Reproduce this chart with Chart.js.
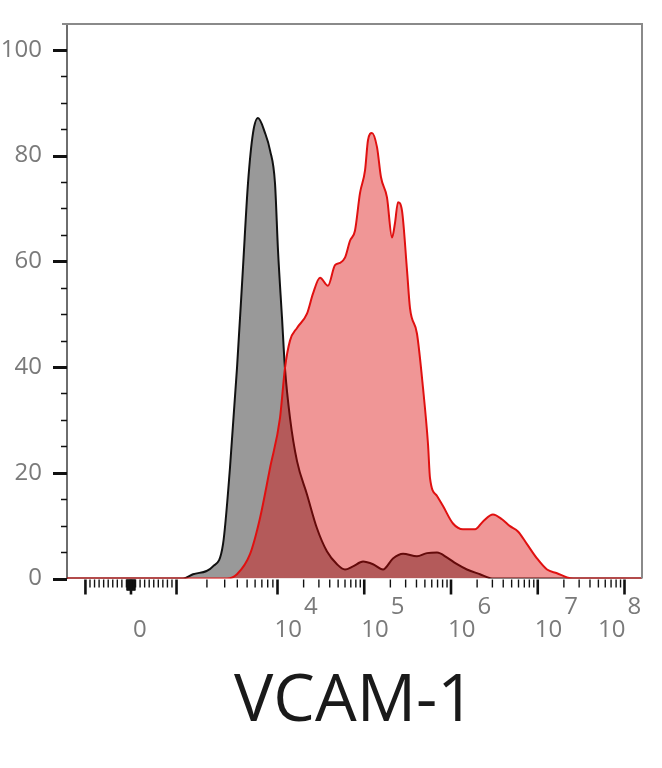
<!DOCTYPE html>
<html><head><meta charset="utf-8">
<script src="https://cdn.jsdelivr.net/npm/chart.js@4.4.1/dist/chart.umd.min.js"></script>
<style>html,body{margin:0;padding:0;background:#fff;}#wrap{width:662px;height:768px;}</style>
</head><body><div id="wrap"><canvas id="c" width="662" height="768"></canvas></div>
<script>
// x values are display positions (decade units of the biexponential axis)
const grayX = [1.57, 2.911, 3.026, 3.256, 3.372, 3.452, 3.533, 3.602, 3.660, 3.718, 3.775, 3.856, 3.914, 3.971, 4.006, 4.052, 4.086, 4.144, 4.225, 4.340, 4.455, 4.571, 4.686, 4.778, 4.870, 4.986, 5.101, 5.216, 5.331, 5.447, 5.608, 5.723, 5.839, 5.960, 6.060, 6.184, 6.334, 6.473, 8.21];
const grayY = [0, 0, 0.8, 2.3, 6.5, 20.9, 39.8, 58.8, 74.8, 84.3, 87.1, 84.3, 81.0, 74.8, 62.0, 49.3, 39.8, 30.4, 22.2, 15.9, 9.5, 5.1, 2.7, 1.7, 2.3, 3.2, 2.7, 1.7, 3.8, 4.7, 4.2, 4.8, 4.9, 3.9, 2.8, 1.7, 0.8, 0, 0];
const redX = [1.57, 3.418, 3.533, 3.683, 3.798, 3.914, 4.029, 4.086, 4.144, 4.225, 4.340, 4.409, 4.490, 4.582, 4.663, 4.720, 4.778, 4.836, 4.893, 4.951, 5.009, 5.043, 5.089, 5.147, 5.193, 5.262, 5.320, 5.354, 5.389, 5.435, 5.493, 5.527, 5.608, 5.677, 5.735, 5.758, 5.839, 5.908, 6.023, 6.138, 6.277, 6.369, 6.484, 6.588, 6.680, 6.772, 6.876, 6.991, 7.107, 7.222, 7.337, 7.406, 8.21];
const redY = [0, 0, 0.8, 4.6, 11.4, 20.9, 30.4, 39.8, 45.0, 47.4, 50.1, 53.9, 56.9, 55.4, 59.3, 59.7, 60.7, 63.9, 65.8, 72.9, 77.2, 82.9, 84.3, 81.6, 75.9, 72.1, 64.5, 67.2, 71.2, 69.6, 58.3, 51.2, 46.3, 36.1, 25.4, 19.0, 15.6, 13.7, 10.4, 9.3, 9.3, 10.8, 12.1, 11.2, 9.9, 8.9, 6.5, 3.8, 1.7, 1.0, 0.2, 0, 0];

const xMajorValues = [-1000, 0, 1000, 1e4, 1e5, 1e6, 1e7, 1e8];
const xLabelBase = ['', '0', '', '10', '10', '10', '10', '10'];
const xLabelExp  = ['', '', '', '4', '5', '6', '7', '8'];
const yMajorTicks = [0, 20, 40, 60, 80, 100];
const yMinorTicks = [5, 10, 15, 25, 30, 35, 45, 50, 55, 65, 70, 75, 85, 90, 95];
const titleText = 'VCAM-1';

const X_MIN = 1.5735, X_MAX = 8.2017;
// biexponential display transform: linear near zero, log above
function toDisplay(v) {
  if (Math.abs(v) <= 1000) return 2.311 + v * 0.000525;
  if (v < 1e4) return 2.836 + Math.log10(v / 1000) * 1.164;
  return Math.log10(v);
}
const xMinorValues = [], xClusterValues = [];
for (let k = 1; k <= 9; k++) { xMinorValues.push(-k * 100, k * 100); xClusterValues.push(-k * 10, k * 10); }
for (let d = 3; d < 8; d++) for (let k = 2; k <= 9; k++) xMinorValues.push(k * Math.pow(10, d));

const pts = (xs, ys) => xs.map((x, i) => ({x, y: ys[i]}));

const LABEL_FONT = '24px "Open Sans"';
const decor = {
  id: 'decor',
  afterDraw(chart) {
    const {ctx, chartArea: a, scales: {x, y}} = chart;
    ctx.save();
    ctx.strokeStyle = '#8a8a8a'; ctx.lineWidth = 2;
    ctx.beginPath(); ctx.moveTo(a.left - 5, a.top); ctx.lineTo(a.right, a.top); ctx.lineTo(a.right, a.bottom); ctx.stroke();
    ctx.strokeStyle = '#111';
    yMajorTicks.forEach(v => { const py = Math.round(y.getPixelForValue(v)) + 0.5; ctx.lineWidth = 3; ctx.beginPath(); ctx.moveTo(a.left - 14, py); ctx.lineTo(a.left, py); ctx.stroke(); });
    yMinorTicks.forEach(v => { const py = Math.round(y.getPixelForValue(v)) + 0.5; ctx.lineWidth = 1.5; ctx.beginPath(); ctx.moveTo(a.left - 6, py); ctx.lineTo(a.left, py); ctx.stroke(); });
    const b = a.bottom + 1;
    const vt = (v, len, w) => { const px = x.getPixelForValue(toDisplay(v)); if (px < a.left || px > a.right) return; ctx.lineWidth = w; ctx.beginPath(); ctx.moveTo(px, b); ctx.lineTo(px, b + len); ctx.stroke(); };
    xMinorValues.forEach(v => vt(v, 8, 1.4));
    xClusterValues.forEach(v => vt(v, 11, 1.2));
    xMajorValues.forEach(v => vt(v, 15, 2.6));
    ctx.font = LABEL_FONT; ctx.fillStyle = '#7a7a7a'; ctx.textBaseline = 'alphabetic';
    xMajorValues.forEach((v, i) => {
      const px = x.getPixelForValue(toDisplay(v));
      const base = xLabelBase[i], ex = xLabelExp[i];
      if (!base) return;
      if (!ex) { ctx.textAlign = 'center'; ctx.fillText(base, px + 9, 637); return; }
      ctx.textAlign = 'left';
      const w = ctx.measureText(base).width;
      const left = (i === xMajorValues.length - 1) ? px + 1 - w : px - 3;
      ctx.fillText(base, left, 637);
      ctx.fillText(ex, left + w + 2, 614);
    });
    ctx.restore();
  }
};

new Chart(document.getElementById('c'), {
  type: 'line',
  data: {
    datasets: [
      { data: pts(redX, redY), borderColor: '#e01010', borderWidth: 2, backgroundColor: 'rgba(218,0,0,0.41)', fill: 'origin', cubicInterpolationMode: 'monotone', pointRadius: 0 },
      { data: pts(grayX, grayY), borderColor: '#111111', borderWidth: 2, backgroundColor: '#999999', fill: 'origin', cubicInterpolationMode: 'monotone', pointRadius: 0 }
    ]
  },
  options: {
    responsive: false, animation: false, devicePixelRatio: 1,
    layout: { padding: { top: 24, right: 20, left: 0, bottom: 0 } },
    plugins: { legend: { display: false }, tooltip: { enabled: false } },
    scales: {
      x: {
        type: 'linear', min: X_MIN, max: X_MAX,
        grid: { display: false, drawTicks: false }, border: { display: false },
        ticks: { display: false },
        title: { display: true, text: titleText, color: '#1a1a1a', font: { family: 'Open Sans', size: 66, weight: 'normal' }, padding: { top: 0, bottom: 26 } },
        afterFit(s) { s.height = 768 - 578.5; s.paddingLeft = 0; s.paddingRight = 0; }
      },
      y: {
        min: 0, max: 104.9,
        afterBuildTicks(s) { s.ticks = yMajorTicks.map(v => ({ value: v })); },
        grid: { display: false, drawTicks: false },
        border: { display: true, color: '#6e6e6e', width: 2 },
        ticks: { color: '#7a7a7a', padding: 25, font: { family: 'Open Sans', size: 24 } },
        afterFit(s) { s.width = 67; s.paddingTop = 0; s.paddingBottom = 0; }
      }
    }
  },
  plugins: [decor]
});
</script></body></html>
